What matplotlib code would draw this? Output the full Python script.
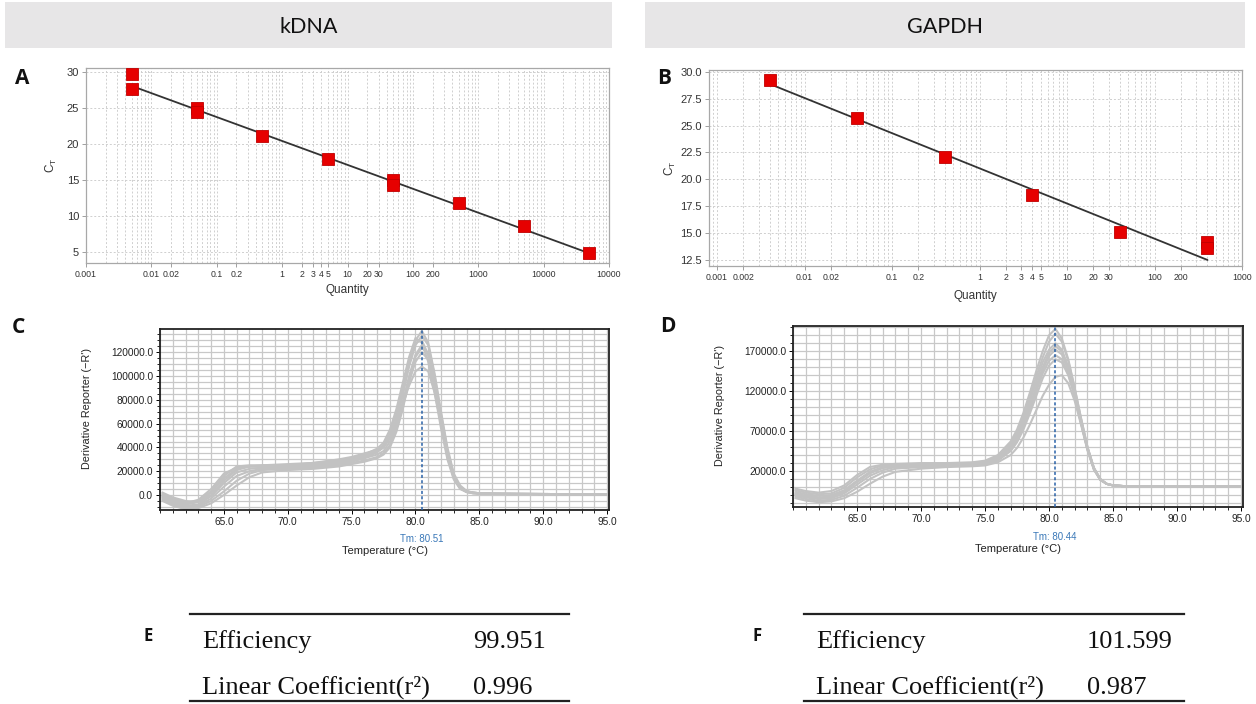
import numpy as np
import matplotlib
matplotlib.use('Agg')
import matplotlib.pyplot as plt
from matplotlib.patches import Rectangle
from matplotlib.lines import Line2D
from matplotlib.ticker import FixedLocator, MultipleLocator, LogLocator, NullFormatter, FormatStrFormatter

W, H = 1256, 704

# --- Curva estándar kDNA (A) ---
kdna_cantidad = [0.005, 0.005, 0.05, 0.05, 0.5, 5, 50, 50, 500, 5000, 50000]
kdna_ct = [29.7, 27.7, 25.1, 24.5, 21.1, 17.9, 15.1, 14.3, 11.8, 8.6, 4.9]
kdna_pendiente = -3.322
kdna_intercepto = 20.46
kdna_xticks = [0.001, 0.01, 0.02, 0.1, 0.2, 1, 2, 3, 4, 5, 10, 20, 30, 100, 200, 1000, 10000, 100000]
kdna_xlabels = ['0.001', '0.01', '0.02', '0.1', '0.2', '1', '2', '3', '4', '5', '10', '20', '30',
                '100', '200', '1000', '10000', '10000']
kdna_yticks = [5, 10, 15, 20, 25, 30]

# --- Curva estándar GAPDH (B) ---
gapdh_cantidad = [0.004, 0.04, 0.4, 4, 40, 400, 400]
gapdh_ct = [29.3, 25.7, 22.1, 18.5, 15.1, 14.1, 13.6]
gapdh_pendiente = -3.284
gapdh_intercepto = 21.02
gapdh_xticks = [0.001, 0.002, 0.01, 0.02, 0.1, 0.2, 1, 2, 3, 4, 5, 10, 20, 30, 100, 200, 1000]
gapdh_xlabels = ['0.001', '0.002', '0.01', '0.02', '0.1', '0.2', '1', '2', '3', '4', '5', '10', '20', '30',
                 '100', '200', '1000']
gapdh_yticks = [12.5, 15.0, 17.5, 20.0, 22.5, 25.0, 27.5, 30.0]

# --- Curvas de fusión (valores en miles) ---
temp_fusion = [60.2, 61, 62, 63, 64, 65, 66, 67, 68, 70, 72, 74, 75, 76, 77, 77.5, 78, 78.5, 79, 79.5,
               80, 80.5, 81, 81.5, 82, 82.5, 83, 83.5, 84, 84.5, 85, 86, 88, 95]

kdna_curva1 = [1, -3, -6, -5, 3, 16, 24, 25, 25, 25, 26, 28, 30, 33, 37, 40, 48, 62, 84, 108, 126, 134, 126, 100, 68, 38, 17, 7, 3, 2, 1.5, 1, 1, 0.5]
kdna_curva2 = [-2, -6, -9, -8, -1, 10, 19, 22, 23, 24, 25, 27, 29, 31, 34, 37, 45, 58, 78, 100, 118, 126, 119, 94, 63, 34, 15, 6, 2.5, 1.5, 1.2, 1, 0.8, 0.5]
kdna_curva3 = [-4, -8, -11, -10, -5, 3, 12, 18, 21, 22, 23, 25, 27, 29, 32, 35, 42, 55, 74, 95, 112, 120, 114, 90, 60, 32, 14, 5.5, 2.5, 1.5, 1, 1, 0.8, 0.5]
kdna_curva4 = [0, -4, -7, -4, 5, 18, 23, 24, 24, 24, 25, 27, 29, 32, 37, 42, 52, 68, 90, 112, 128, 130, 118, 92, 62, 34, 15, 6, 3, 2, 1.5, 1.2, 1, 0.5]
kdna_curva5 = [-3, -7, -10, -9, -3, 7, 16, 20, 22, 23, 24, 26, 28, 31, 36, 40, 48, 60, 76, 92, 104, 108, 104, 86, 60, 33, 15, 6, 3, 2, 1.5, 1, 1, 0.5]
kdna_curva6 = [2, -2, -5, -6, 0, 12, 21, 24, 25, 26, 27, 30, 32, 35, 38, 41, 49, 64, 86, 110, 130, 138, 128, 102, 70, 40, 18, 8, 3.5, 2, 1.5, 1.2, 1, 0.5]
kdna_curva7 = [-5, -9, -12, -11, -7, 0, 8, 15, 19, 21, 22, 24, 26, 28, 31, 34, 40, 53, 72, 96, 116, 124, 118, 95, 64, 36, 16, 6.5, 3, 2, 1.5, 1, 0.8, 0.5]
kdna_curva8 = [-1, -5, -8, -6, 2, 14, 22, 24, 24, 25, 27, 29, 31, 34, 39, 44, 55, 72, 94, 116, 132, 128, 112, 86, 56, 30, 13, 5, 2.5, 1.5, 1.2, 1, 1, 0.5]
kdna_tm = 80.51

gapdh_curva1 = [-8, -11, -13, -12, -6, 6, 17, 24, 26, 27, 27, 28, 30, 36, 50, 62, 80, 102, 126, 150, 168, 176, 170, 150, 120, 84, 50, 24, 10, 4, 2, 1, 1, 1]
gapdh_curva2 = [-4, -7, -9, -8, -1, 12, 22, 27, 28, 29, 29, 30, 32, 38, 54, 68, 88, 112, 138, 162, 182, 192, 182, 158, 124, 86, 50, 24, 10, 4, 2, 1, 1, 1]
gapdh_curva3 = [-12, -15, -17, -16, -11, -1, 10, 18, 23, 25, 26, 27, 28, 33, 45, 56, 72, 92, 114, 136, 152, 160, 156, 140, 114, 80, 48, 23, 10, 4, 2, 1, 1, 1]
gapdh_curva4 = [-6, -9, -11, -10, -4, 8, 19, 25, 27, 28, 28, 29, 31, 37, 52, 65, 84, 108, 132, 156, 172, 180, 172, 150, 118, 82, 48, 23, 9, 4, 2, 1, 1, 1]
gapdh_curva5 = [-14, -17, -19, -18, -14, -6, 4, 13, 19, 23, 25, 26, 27, 31, 40, 49, 62, 78, 96, 114, 128, 138, 140, 130, 108, 78, 46, 22, 9, 4, 2, 1, 1, 1]
gapdh_curva6 = [-2, -5, -7, -5, 2, 15, 25, 28, 29, 30, 30, 31, 33, 40, 57, 72, 93, 118, 145, 170, 190, 198, 186, 160, 124, 86, 50, 24, 10, 4, 2, 1, 1, 1]
gapdh_curva7 = [-10, -13, -15, -14, -8, 3, 14, 21, 25, 26, 27, 28, 29, 35, 48, 60, 77, 98, 120, 142, 158, 165, 160, 142, 114, 80, 47, 22, 9, 4, 2, 1, 1, 1]
gapdh_curva8 = [-9, -12, -14, -12, -5, 7, 18, 24, 26, 27, 28, 28, 30, 35, 48, 59, 76, 98, 122, 146, 164, 172, 166, 146, 116, 81, 48, 23, 9, 4, 2, 1, 1, 1]
gapdh_tm = 80.44

kdna_fusion_yticks = [0, 20000, 40000, 60000, 80000, 100000, 120000]
gapdh_fusion_yticks = [20000, 70000, 120000, 170000]
fusion_xticks = [65, 70, 75, 80, 85, 90, 95]

# --- Tablas E y F ---
tabla_filas = ['Efficiency', 'Linear Coefficient(r²)']
kdna_tabla = ['99.951', '0.996']
gapdh_tabla = ['101.599', '0.987']

plt.rcParams['font.family'] = ['Liberation Sans', 'DejaVu Sans']
fig = plt.figure(figsize=(W / 100, H / 100), dpi=100)


def rect_px(x0, y0, x1, y1):
    # convierte pixeles (origen arriba-izquierda) a coordenadas de figura
    return [x0 / W, 1 - y1 / H, (x1 - x0) / W, (y1 - y0) / H]


def texto_px(x, y, s, **kw):
    fig.text(x / W, 1 - y / H, s, **kw)


def curva_estandar(rect, cantidad, ct, pendiente, intercepto, xlim, ylim, xticks, xlabels, yticks, yfmt,
                   ct_x, q_y):
    ax = fig.add_axes(rect)
    ax.set_xscale('log')
    ax.set_xlim(*xlim)
    ax.set_ylim(*ylim)
    ax.xaxis.set_major_locator(FixedLocator(xticks))
    ax.set_xticklabels(xlabels)
    ax.xaxis.set_minor_locator(LogLocator(base=10, subs=np.arange(2, 10)))
    ax.xaxis.set_minor_formatter(NullFormatter())
    ax.set_yticks(yticks)
    ax.yaxis.set_major_formatter(FormatStrFormatter(yfmt))
    ax.grid(True, which='both', axis='x', color='#cfcfcf', linestyle=(0, (2, 2)), lw=0.7)
    ax.grid(True, which='major', axis='y', color='#cfcfcf', linestyle=(0, (2, 2)), lw=0.7)
    ax.set_axisbelow(True)
    for s in ax.spines.values():
        s.set_color('#a8a8a8')
        s.set_linewidth(0.9)
    ax.tick_params(axis='x', which='major', labelsize=6.3, length=3, width=0.6, color='#909090',
                   pad=2, labelcolor='#333333')
    ax.tick_params(axis='x', which='minor', length=0)
    ax.tick_params(axis='y', labelsize=8, length=3, width=0.6, color='#909090', pad=2, labelcolor='#333333')
    # línea de regresión a partir de pendiente e intercepto
    lx = np.log10([min(cantidad), max(cantidad)])
    ax.plot(10 ** lx, intercepto + pendiente * lx, color='#333333', lw=1.3, zorder=3)
    ax.plot(cantidad, ct, 's', ms=8, color='#e60000', mec='#c00000', mew=0.6, zorder=4)
    ax.text(ct_x, 0.5, r'C$\mathregular{_T}$', transform=ax.transAxes, rotation=90,
            ha='center', va='center', fontsize=8.5, color='#333333')
    ax.text(0.5, q_y, 'Quantity', transform=ax.transAxes, ha='center', va='center',
            fontsize=8.5, color='#333333')
    return ax


def curva_fusion(rect, curvas, tm, ylim, yticks, ygrid, ylab_x, tm_y, temp_y):
    ax = fig.add_axes(rect)
    ax.set_xlim(60, 95.15)
    ax.set_ylim(*ylim)
    ax.set_xticks(fusion_xticks)
    ax.xaxis.set_minor_locator(MultipleLocator(1))
    ax.set_yticks(yticks)
    ax.yaxis.set_minor_locator(MultipleLocator(ygrid))
    ax.xaxis.set_major_formatter(FormatStrFormatter('%.1f'))
    ax.yaxis.set_major_formatter(FormatStrFormatter('%.1f'))
    ax.grid(True, which='both', color='#c8c8c8', lw=0.9)
    ax.set_axisbelow(True)
    for s in ax.spines.values():
        s.set_color('#222222')
        s.set_linewidth(1.3)
    ax.tick_params(which='major', labelsize=7.3, length=3, width=0.7, pad=2, labelcolor='#222222')
    ax.tick_params(which='minor', length=2, width=0.6)
    for c in curvas:
        ax.plot(temp_fusion, np.array(c) * 1000, color='#c2c2c2', lw=1.5, zorder=2)
    ax.axvline(tm, color='#2a62a8', lw=1.1, linestyle=(0, (2, 1.5)), zorder=3)
    ax.text(tm, tm_y, 'Tm: %.2f' % tm, transform=ax.get_xaxis_transform(), ha='center', va='center',
            fontsize=7, color='#3a78b8')
    ax.text(0.5, temp_y, 'Temperature (°C)', transform=ax.transAxes, ha='center', va='center',
            fontsize=8, color='#222222')
    ax.text(ylab_x, 0.56, "Derivative Reporter (−R')", transform=ax.transAxes, rotation=90,
            ha='center', va='center', fontsize=7.8, color='#222222')
    return ax


# Cabeceras grises
for x0, x1, nombre in [(5, 612, 'kDNA'), (645, 1245, 'GAPDH')]:
    fig.add_artist(Rectangle((x0 / W, 1 - 48 / H), (x1 - x0) / W, 46 / H, transform=fig.transFigure,
                             facecolor='#e7e6e7', edgecolor='none'))
    texto_px((x0 + x1) / 2, 27, nombre, ha='center', va='center', fontsize=15.5, family='Lato',
             color='#111111')

# Paneles A y B
curva_estandar(rect_px(86, 68, 609, 263), kdna_cantidad, kdna_ct, kdna_pendiente, kdna_intercepto,
               (0.001, 100000), (3.5, 30.6), kdna_xticks, kdna_xlabels, kdna_yticks, '%d', -0.067, -0.138)
curva_estandar(rect_px(709, 70, 1242, 266), gapdh_cantidad, gapdh_ct, gapdh_pendiente, gapdh_intercepto,
               (0.00081, 1000), (11.9, 30.2), gapdh_xticks, gapdh_xlabels, gapdh_yticks, '%.1f', -0.073, -0.153)

# Paneles C y D
curva_fusion(rect_px(160, 329, 609, 510),
             [kdna_curva1, kdna_curva2, kdna_curva3, kdna_curva4, kdna_curva5, kdna_curva6, kdna_curva7, kdna_curva8],
             kdna_tm, (-12600, 139600), kdna_fusion_yticks, 5000, -0.163, -0.16, -0.228)
curva_fusion(rect_px(793, 326, 1243, 507),
             [gapdh_curva1, gapdh_curva2, gapdh_curva3, gapdh_curva4, gapdh_curva5, gapdh_curva6, gapdh_curva7, gapdh_curva8],
             gapdh_tm, (-25000, 201600), gapdh_fusion_yticks, 10000, -0.162, -0.164, -0.23)

# Letras de panel
for x, y, letra, tam in [(22, 78, 'A', 15), (664, 79, 'B', 15), (18, 328, 'C', 15), (668, 326, 'D', 15),
                         (148, 636, 'E', 12), (757, 636, 'F', 12)]:
    texto_px(x, y, letra, ha='center', va='center', fontsize=tam, fontweight='bold', family='Open Sans',
             color='#111111')

# Tablas E y F
for x0, x1, valores in [(190, 569, kdna_tabla), (804, 1184, gapdh_tabla)]:
    for y in (614, 701):
        fig.add_artist(Line2D([x0 / W, x1 / W], [1 - y / H, 1 - y / H], transform=fig.transFigure,
                              color='#222222', lw=1.6))
    for fila, valor, yb in zip(tabla_filas, valores, (648, 694)):
        texto_px(x0 + 12, yb, fila, ha='left', va='baseline', fontsize=19, family='Liberation Serif',
                 color='#111111')
        texto_px(x0 + 283, yb, valor, ha='left', va='baseline', fontsize=19, family='Liberation Serif',
                 color='#111111')

fig.savefig('out.png', dpi=100)
